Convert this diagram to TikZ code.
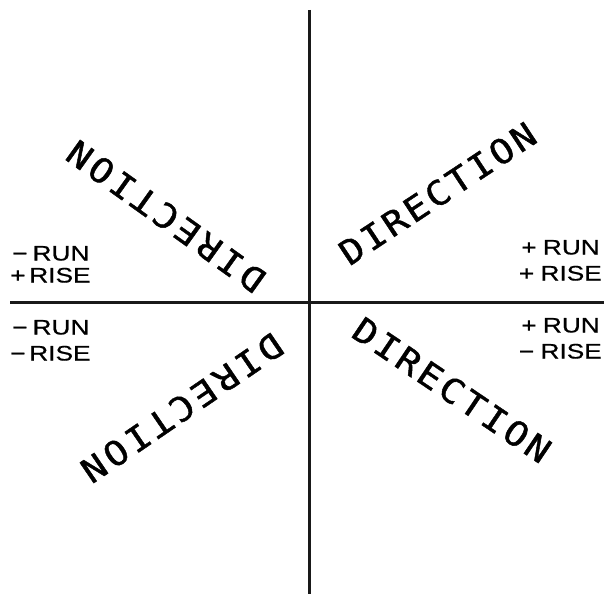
\documentclass[tikz,border=0pt]{standalone}
\usepackage{fontspec}
\setmainfont{Liberation Sans}
\newfontfamily\lblfont{Liberation Sans}[FakeBold=0.6]
\newfontfamily\dirfont{DejaVu Sans Mono}[FakeBold=1.2]
\usetikzlibrary{calc}
\tikzset{
  axisline/.style={line width=3pt, black!90},
  lbl/.style={inner sep=0pt, font=\lblfont\fontsize{21}{21}\selectfont, xscale=1.25, transform shape, text height=15pt, text depth=0pt},
  letter/.style={inner sep=0pt, font=\dirfont\fontsize{34}{34}\selectfont, text height=24.8pt, text depth=0pt, anchor=center, transform shape}
}
\newcommand\dirline[4]{%
  \foreach \ch [count=\i from 0] in {D,I,R,E,C,T,I,O,N}
    \node[letter, #4, xscale=1.1] (#1\i) at ($#2!\i/8!#3$) {\ch};}
\begin{document}
\begin{tikzpicture}[x=1pt, y=-1pt]
  \useasboundingbox (0,0) rectangle (604,594);
  % axes
  \coordinate (vt) at (309,10);
  \coordinate (vb) at (309,594);
  \coordinate (hl) at (10,302.5);
  \coordinate (hr) at (604,302.5);
  \draw[axisline] (vt) -- (vb);
  \draw[axisline] (hl) -- (hr);
  % DIRECTION words
  \dirline{tr}{(352,250)}{(523,137)}{rotate=33.46}
  \dirline{tl}{(252,278)}{(80,155)}{rotate=144.43}
  \dirline{bl}{(270,348)}{(94,468)}{rotate=214.29}
  \dirline{br}{(366,332)}{(538,448)}{rotate=-34.0}
  % labels
  \node[lbl, anchor=east] (r1) at (600,247) {+\kern5pt RUN};
  \node[lbl, anchor=east] (r2) at (602,273) {+\kern5pt RISE};
  \node[lbl, anchor=east] (r3) at (600,325) {+\kern5pt RUN};
  \node[lbl, anchor=east] (r4) at (602,351) {\char"2212\kern5pt RISE};
  \node[lbl, anchor=west] (l1) at (12,253) {\char"2212\kern4pt RUN};
  \node[lbl, anchor=west] (l2) at (10,275) {+\kern3pt RISE};
  \node[lbl, anchor=west] (l3) at (12,327) {\char"2212\kern4pt RUN};
  \node[lbl, anchor=west] (l4) at (10,353) {\char"2212\kern3pt RISE};
\end{tikzpicture}
\end{document}
